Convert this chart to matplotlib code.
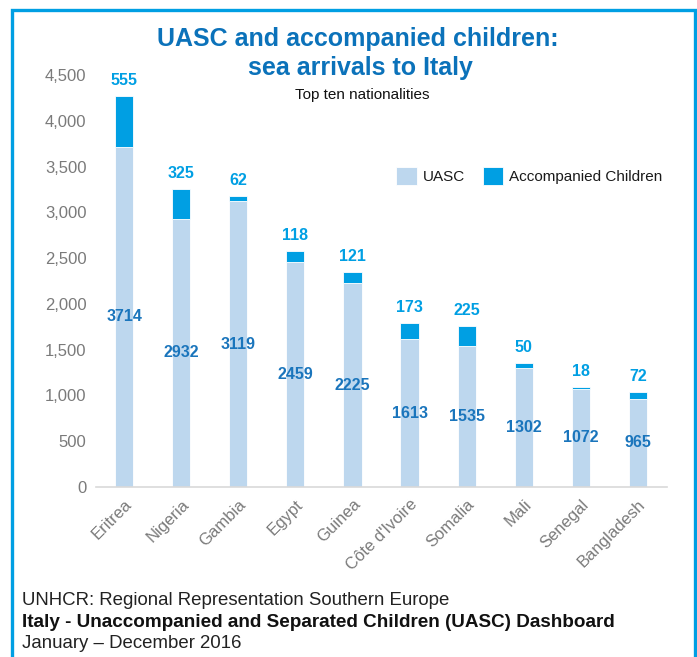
import matplotlib
matplotlib.use("Agg")
import matplotlib.pyplot as plt
from matplotlib.patches import Rectangle
from matplotlib.ticker import FuncFormatter

countries = ["Eritrea", "Nigeria", "Gambia", "Egypt", "Guinea", "Côte d'Ivoire",
             "Somalia", "Mali", "Senegal", "Bangladesh"]
uasc = [3714, 2932, 3119, 2459, 2225, 1613, 1535, 1302, 1072, 965]
accompanied = [555, 325, 62, 118, 121, 173, 225, 50, 18, 72]
yticks = [0, 500, 1000, 1500, 2000, 2500, 3000, 3500, 4000, 4500]

plt.rcParams['font.family'] = ["Liberation Sans", "DejaVu Sans"]

C_UASC = "#BDD7EE"
C_ACC = "#009FE3"
C_TITLE = "#0B72BA"
C_LBL = "#1A75BC"

fig = plt.figure(figsize=(6.97, 6.57), dpi=100)
ax = fig.add_axes([95.5/697, 1-487/657, 571/697, 412/657])

x = list(range(len(countries)))
ax.bar(x, uasc, width=0.32, color=C_UASC, edgecolor="white", linewidth=0.6, label="UASC")
ax.bar(x, accompanied, width=0.32, bottom=uasc, color=C_ACC, edgecolor="white",
       linewidth=0.6, label="Accompanied Children")

for i in x:
    ax.text(i, uasc[i]/2, f"{uasc[i]}", ha="center", va="center", color=C_LBL,
            fontsize=11.5, fontweight="bold")
    ax.text(i, uasc[i]+accompanied[i]+120, f"{accompanied[i]}", ha="center", va="baseline",
            color=C_ACC, fontsize=11.5, fontweight="bold", clip_on=False)

ax.set_xlim(-0.5, len(countries)-0.5)
ax.set_ylim(0, 4500)
ax.set_yticks(yticks)
ax.yaxis.set_major_formatter(FuncFormatter(lambda v, p: f"{int(v):,}"))
ax.set_xticks(x)
ax.set_xticklabels(countries, rotation=45, ha="right", rotation_mode="anchor")
ax.tick_params(axis="both", length=0, colors="#7A7A7A")
ax.tick_params(axis="x", labelsize=12, pad=7)
ax.tick_params(axis="y", labelsize=12, pad=6.5)
for s in ["top", "right", "left"]:
    ax.spines[s].set_visible(False)
ax.spines["bottom"].set_color("#D9D9D9")
ax.spines["bottom"].set_linewidth(1.2)

leg = ax.legend(loc="center left", bbox_to_anchor=(396/697, 1-176/657), bbox_transform=fig.transFigure,
                ncol=2, frameon=False, fontsize=11, handlelength=1.35, handleheight=1.35,
                columnspacing=1.15, handletextpad=0.4, borderaxespad=0, borderpad=0)
for t in leg.get_texts():
    t.set_color("#1a1a1a")

fig.text(358/697, 1-46/657, "UASC and accompanied children:", ha="center", va="baseline",
         fontsize=18, fontweight="bold", color=C_TITLE)
fig.text(360/697, 1-75/657, "sea arrivals to Italy", ha="center", va="baseline",
         fontsize=18, fontweight="bold", color=C_TITLE)
fig.text(362/697, 1-95/657, "Top ten nationalities", ha="center", va="center",
         fontsize=11, color="#111111")

fig.text(22/697, 1-605/657, "UNHCR: Regional Representation Southern Europe", ha="left",
         va="baseline", fontsize=13.4, color="#222222")
fig.text(22/697, 1-627/657, "Italy - Unaccompanied and Separated Children (UASC) Dashboard",
         ha="left", va="baseline", fontsize=13.6, fontweight="bold", color="#111111")
fig.text(22/697, 1-648/657, "January – December 2016", ha="left", va="baseline",
         fontsize=13.4, color="#222222")

fig.patches.append(Rectangle((11.5/697, -0.05), (694.5-11.5)/697, 1.05-9.5/657,
                             transform=fig.transFigure, fill=False, edgecolor=C_ACC,
                             linewidth=2.4))

fig.savefig("out.png", dpi=100)
